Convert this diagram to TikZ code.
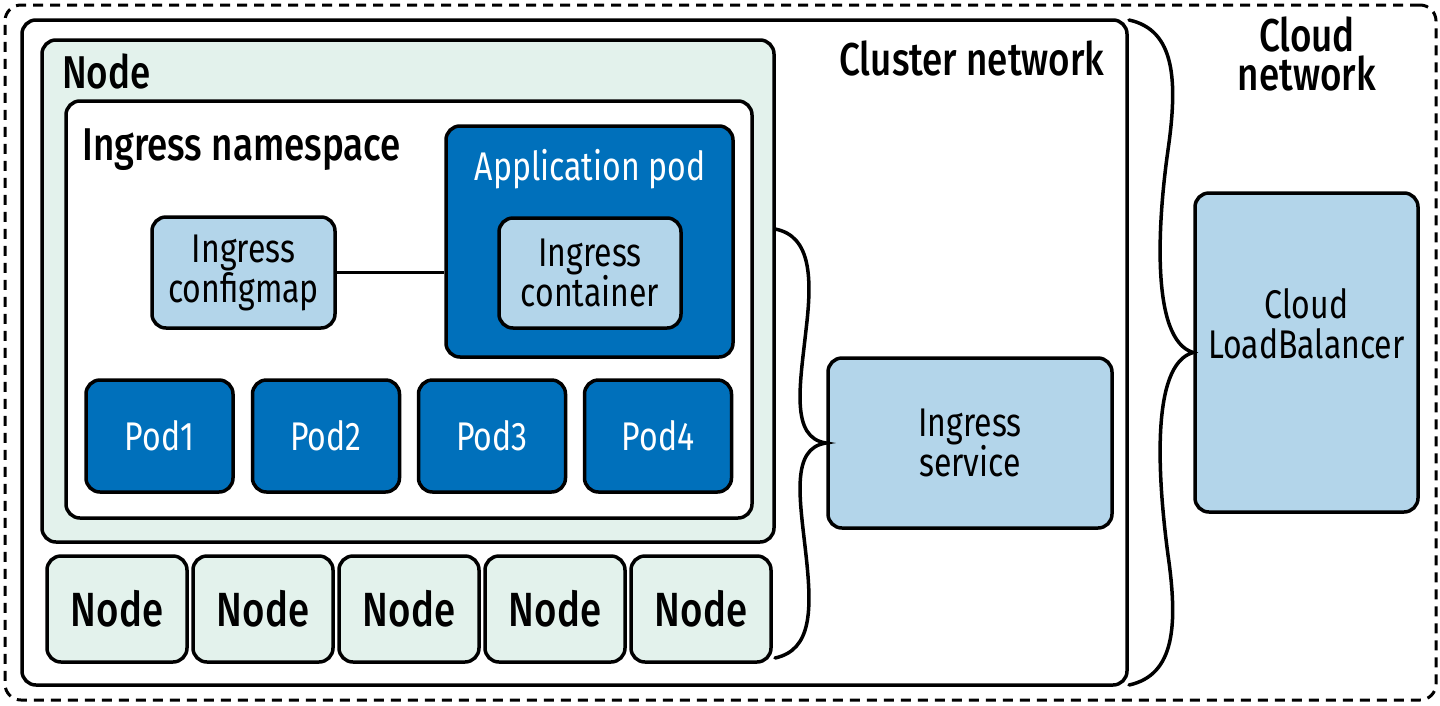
\documentclass[tikz,border=0pt]{standalone}
\usepackage{fontspec}
\setmainfont{Fira Sans}[FakeStretch=0.8, BoldFont={* Medium}]
\usetikzlibrary{positioning, calc}

\definecolor{nodegreen}{HTML}{E3F2EC}
\definecolor{lightblue}{HTML}{B3D5EA}
\definecolor{podblue}{HTML}{0070BB}

\begin{document}
\begin{tikzpicture}[x=1pt, y=-1pt,
  box/.style={draw, line width=3.5pt, rounded corners=14pt, inner sep=0pt, align=center},
  greenbox/.style={box, fill=nodegreen},
  lightbox/.style={box, fill=lightblue, font=\fontsize{40}{40}\selectfont},
  podbox/.style={box, fill=podblue, text=white, font=\fontsize{40}{40}\selectfont},
  headtext/.style={font=\fontsize{46}{39}\selectfont\bfseries, inner sep=0pt},
  brace/.style={line width=3.5pt, line cap=round}]
  \useasboundingbox (0,0) rectangle (1440,705);

  % Cloud network and cluster network
  \node[box, line width=3pt, dash pattern=on 10pt off 7pt, rounded corners=16pt,
        minimum width=1431pt, minimum height=695pt] (cloud) at (720.5,352.5) {};
  \node[box, fill=white, minimum width=1105pt, minimum height=665pt] (cluster) at (574.5,352.5) {};
  \node[headtext, anchor=base] (clustertext) at (972,75) {Cluster network};
  \node[headtext, align=center, anchor=base] (cloudtext) at (1307,90) {Cloud\\network};

  % Node with ingress namespace
  \node[greenbox, minimum width=732pt, minimum height=502pt] (node0) at (408,291) {};
  \node[headtext, anchor=base west] (nodetext) at (62,88) {Node};
  \node[box, fill=white, minimum width=686pt, minimum height=417pt] (ns) at (409,309.5) {};
  \node[headtext, anchor=base west] (nstext) at (82,160) {Ingress namespace};

  % Application pod
  \node[podbox, minimum width=287pt, minimum height=231pt] (app) at (589.5,241.5) {};
  \node[text=white, font=\fontsize{40}{40}\selectfont, anchor=base] (apptext) at (590,180) {Application pod};
  \node[lightbox, minimum width=182pt, minimum height=110pt] (container) at (590,273) {Ingress\\container};
  \node[lightbox, minimum width=183pt, minimum height=111pt] (configmap) at (243.5,272.5) {Ingress\\configmap};
  \draw[line width=3pt] (configmap.east) -- (configmap.east -| app.west);

  % Pods
  \foreach \x [count=\i] in {159.5,326,492,658}
    \node[podbox, minimum width=147pt, minimum height=112pt] (pod\i) at (\x,436) {Pod\i};

  % Other nodes
  \foreach \x [count=\i] in {117,263,409,555,701}
    \node[greenbox, font=\fontsize{48}{48}\selectfont\bfseries,
          minimum width=140pt, minimum height=106pt] (node\i) at (\x,609) {Node};

  % Ingress service and load balancer
  \node[lightbox, minimum width=284pt, minimum height=170pt] (service) at (970,443) {Ingress\\service};
  \node[lightbox, minimum width=223pt, minimum height=319pt] (lb) at (1306.5,352.5) {};
  \node[font=\fontsize{40}{40}\selectfont, align=center] (lbtext) at (1306.5,324) {Cloud\\LoadBalancer};

  % Braces
  \coordinate (b1top) at (775,229);
  \coordinate (b1bot) at (775,658);
  \draw[brace] (b1top) .. controls (812,236) and (812,280) .. (806,330)
    .. controls (800,385) and (790,438) .. (service.west)
    .. controls (790,448) and (800,500) .. (806,555)
    .. controls (812,610) and (812,650) .. (b1bot);
  \coordinate (b2top) at (1129,20);
  \coordinate (b2bot) at (1129,685);
  \draw[brace] (b2top) .. controls (1175,30) and (1178,80) .. (1168,150)
    .. controls (1158,220) and (1150,340) .. (lb.west)
    .. controls (1150,364) and (1158,480) .. (1168,555)
    .. controls (1178,625) and (1175,675) .. (b2bot);
\end{tikzpicture}
\end{document}
